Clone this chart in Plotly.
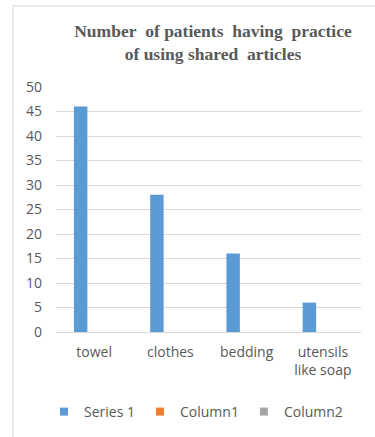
import plotly.graph_objects as go

# Chart data
categories = ["towel", "clothes", "bedding", "utensils<br>like soap"]
series_1 = [46, 28, 16, 6]
column_1 = [None, None, None, None]
column_2 = [None, None, None, None]
y_ticks = [0, 5, 10, 15, 20, 25, 30, 35, 40, 45, 50]

series_names = ["Series 1", "Column1", "Column2"]
series_values = [series_1, column_1, column_2]
series_colors = ["#5b9bd5", "#ed7d31", "#a5a5a5"]

W, H = 375, 437
M_L, M_R, M_T, M_B = 56, 14, 87, 105
plot_w = W - M_L - M_R
plot_h = H - M_T - M_B

TEXT = "#595959"
GRID = "#d9d9d9"
SANS = "Open Sans, Liberation Sans, sans-serif"

fig = go.Figure()

for name, vals, col in zip(series_names, series_values, series_colors):
    fig.add_trace(go.Bar(
        x=categories, y=vals, name=name,
        marker=dict(color=col, line=dict(width=0)),
        showlegend=False, legendgroup=name,
    ))
    # small square legend entry for the series
    fig.add_trace(go.Scatter(
        x=[None], y=[None], name=name, mode="markers",
        marker=dict(symbol="square", size=8, color=col),
        legendgroup=name, showlegend=True, hoverinfo="skip",
    ))

# light frame around the chart area (left and top edges visible)
def px_to_paper_x(px):
    return (px - M_L) / plot_w

def px_to_paper_y(py):
    return (H - M_B - py) / plot_h

fig.add_shape(
    type="rect", xref="paper", yref="paper",
    x0=px_to_paper_x(13), x1=px_to_paper_x(W + 20),
    y0=px_to_paper_y(H + 20), y1=px_to_paper_y(6),
    line=dict(color=GRID, width=1), fillcolor="rgba(0,0,0,0)",
    layer="below",
)

fig.update_layout(
    width=W, height=H,
    margin=dict(l=M_L, r=M_R, t=M_T, b=M_B, autoexpand=False),
    paper_bgcolor="white", plot_bgcolor="white",
    barmode="group", bargap=0.47, bargroupgap=0,
    title=dict(
        text="Number&nbsp; of patients&nbsp; having&nbsp; practice<br>of using shared&nbsp; articles",
        x=213 / W, xref="container", xanchor="center",
        y=1 - 37 / H, yref="container", yanchor="top",
        font=dict(family="Liberation Serif, Times New Roman, serif", size=17.5,
                  color=TEXT, weight="bold"),
        pad=dict(t=0, b=0),
    ),
    font=dict(family=SANS, size=14, color=TEXT),
    legend=dict(
        orientation="h", x=px_to_paper_x(196), xanchor="center",
        y=px_to_paper_y(412), yanchor="middle",
        font=dict(family=SANS, size=14, color=TEXT),
        itemclick=False, itemdoubleclick=False,
        tracegroupgap=0,
    ),
    showlegend=True,
)

fig.update_yaxes(
    range=[0, 50], tickvals=y_ticks, showgrid=True, gridcolor=GRID, gridwidth=1,
    zeroline=True, zerolinecolor=GRID, zerolinewidth=1, showline=False,
    ticks="", ticklabelstandoff=13, tickfont=dict(family=SANS, size=14, color=TEXT),
    fixedrange=True,
)
fig.update_xaxes(
    showgrid=False, showline=False, ticks="", ticklabelstandoff=10,
    tickfont=dict(family=SANS, size=14, color=TEXT), fixedrange=True,
)

fig.write_html("out.html", config={"displayModeBar": False})
